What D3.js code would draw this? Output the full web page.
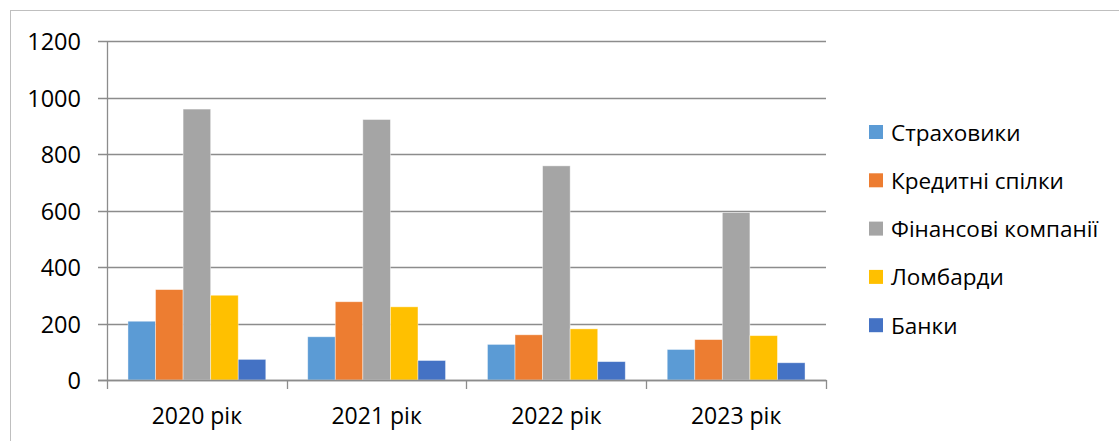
<!DOCTYPE html>
<html>
<head>
<meta charset="utf-8">
<script src="https://cdn.jsdelivr.net/npm/d3@7"></script>
<style>
  html, body { margin: 0; padding: 0; background: #fff; }
  svg { display: block; }
  text { font-family: "Open Sans", sans-serif; fill: #000; }
</style>
</head>
<body>
<svg id="chart" width="1119" height="441"></svg>
<script>
const categories = ["2020 рік", "2021 рік", "2022 рік", "2023 рік"];
const seriesNames = ["Страховики", "Кредитні спілки", "Фінансові компанії", "Ломбарди", "Банки"];
const strakhovyky = [208, 153, 126, 108];
const kredytni = [320, 277, 160, 143];
const finansovi = [959, 922, 758, 593];
const lombardy = [300, 259, 181, 157];
const banky = [73, 69, 65, 61];
const colors = ["#5b9bd5", "#ed7d31", "#a5a5a5", "#ffc000", "#4472c4"];
const yTicks = [0, 200, 400, 600, 800, 1000, 1200];

const seriesValues = [strakhovyky, kredytni, finansovi, lombardy, banky];

const svg = d3.select("#chart");
const plotLeft = 107, plotRight = 826, plotTop = 41, plotBottom = 380;

// outer chart border (top and left visible)
svg.append("rect")
  .attr("x", 10.5).attr("y", 10.5)
  .attr("width", 1200).attr("height", 500)
  .attr("fill", "none").attr("stroke", "#bfbfbf").attr("stroke-width", 1);

const y = d3.scaleLinear().domain([0, 1200]).range([plotBottom, plotTop]);
const x0 = d3.scaleBand().domain(categories).range([plotLeft, plotRight])
  .paddingInner(0.2333).paddingOuter(0.11667);
const x1 = d3.scaleBand().domain(seriesNames).range([0, x0.bandwidth()]).padding(0);

const gridColor = "#8c8c8c";

// gridlines + y tick marks
svg.append("g").selectAll("line").data(yTicks).join("line")
  .attr("x1", plotLeft - 9).attr("x2", plotRight)
  .attr("y1", d => Math.round(y(d)) + 0.5).attr("y2", d => Math.round(y(d)) + 0.5)
  .attr("stroke", gridColor).attr("stroke-width", 1.3);

// y labels
svg.append("g").selectAll("text").data(yTicks).join("text")
  .attr("x", 81).attr("y", d => y(d))
  .attr("text-anchor", "end").attr("dominant-baseline", "central")
  .style("font-size", "23.5px")
  .text(d => d);

// bars
const groups = svg.append("g").selectAll("g").data(categories).join("g")
  .attr("transform", d => `translate(${x0(d)},0)`);
groups.selectAll("rect")
  .data((c, ci) => seriesNames.map((s, si) => ({ s, si, v: seriesValues[si][ci] })))
  .join("rect")
  .attr("x", d => x1(d.s))
  .attr("width", x1.bandwidth())
  .attr("y", d => y(d.v))
  .attr("height", d => y(0) - y(d.v))
  .attr("fill", (d) => colors[d.si])
  .attr("stroke", "#ffffff").attr("stroke-opacity", 0.5).attr("stroke-width", 0.8);

// y axis line
svg.append("line")
  .attr("x1", plotLeft + 0.5).attr("x2", plotLeft + 0.5)
  .attr("y1", plotTop).attr("y2", plotBottom)
  .attr("stroke", gridColor).attr("stroke-width", 1.3);

// x axis line
svg.append("line")
  .attr("x1", plotLeft - 9).attr("x2", plotRight + 0.5)
  .attr("y1", plotBottom + 0.5).attr("y2", plotBottom + 0.5)
  .attr("stroke", gridColor).attr("stroke-width", 1.6);

// x tick marks at category boundaries
const boundaries = categories.map(c => x0(c) - x0.step() * x0.paddingOuter()).concat([plotRight]);
svg.append("g").selectAll("line").data(boundaries).join("line")
  .attr("x1", d => Math.round(d) + 0.5).attr("x2", d => Math.round(d) + 0.5)
  .attr("y1", plotBottom).attr("y2", plotBottom + 9)
  .attr("stroke", gridColor).attr("stroke-width", 1.3);

// x labels
svg.append("g").selectAll("text").data(categories).join("text")
  .attr("x", d => x0(d) + x0.bandwidth() / 2)
  .attr("y", 424)
  .attr("text-anchor", "middle")
  .style("font-size", "23px")
  .text(d => d);

// legend
const legend = svg.append("g").selectAll("g").data(seriesNames).join("g")
  .attr("transform", (d, i) => `translate(869, ${132 + i * 48.3})`);
legend.append("rect")
  .attr("x", 0).attr("y", -7).attr("width", 14).attr("height", 14)
  .attr("fill", (d, i) => colors[i]);
legend.append("text")
  .attr("x", 22).attr("y", 0)
  .attr("dominant-baseline", "central")
  .style("font-size", "22.5px")
  .text(d => d);
</script>
</body>
</html>
